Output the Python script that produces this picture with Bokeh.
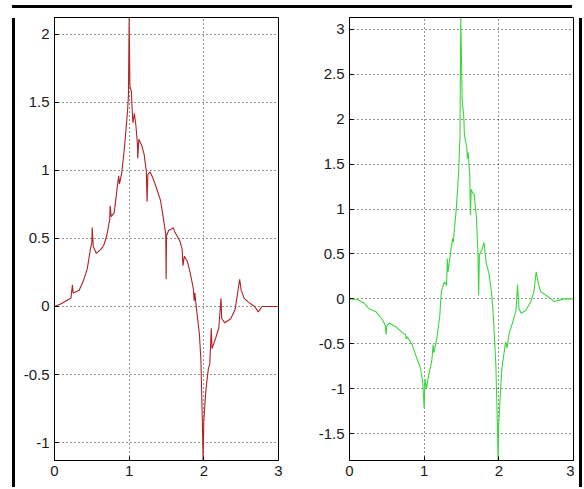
from bokeh.plotting import figure
from bokeh.layouts import row, column
from bokeh.models import Range1d, FixedTicker, Div, Spacer
from bokeh.embed import file_html
from bokeh.resources import INLINE

# ---- data (scaling function, left) ----
phi_x = [0, 0.09, 0.18, 0.22, 0.24, 0.25, 0.33, 0.38, 0.40, 0.44, 0.48, 0.50, 0.505, 0.52,
         0.56, 0.62, 0.66, 0.70, 0.74, 0.745, 0.76, 0.80, 0.85, 0.86, 0.87, 0.90, 0.93, 0.95,
         0.98, 0.99, 1.00, 1.01, 1.03, 1.04, 1.05, 1.07, 1.09, 1.11, 1.115, 1.13, 1.17, 1.20,
         1.23, 1.24, 1.25, 1.28, 1.32, 1.36, 1.42, 1.46, 1.49, 1.495, 1.50, 1.53, 1.57, 1.59,
         1.61, 1.64, 1.68, 1.71, 1.72, 1.74, 1.78, 1.82, 1.86, 1.87, 1.88, 1.90, 1.94, 1.96,
         1.98, 1.99, 2.00, 2.02, 2.03, 2.06, 2.08, 2.10, 2.11, 2.16, 2.20, 2.23, 2.24, 2.28,
         2.36, 2.42, 2.48, 2.50, 2.54, 2.60, 2.68, 2.73, 2.78, 3.00]
phi_y = [0, 0.02, 0.05, 0.06, 0.16, 0.10, 0.12, 0.18, 0.21, 0.28, 0.42, 0.47, 0.58, 0.44,
         0.39, 0.42, 0.45, 0.52, 0.64, 0.74, 0.66, 0.69, 0.92, 0.96, 0.90, 0.98, 1.13, 1.25,
         1.45, 1.55, 2.12, 1.62, 1.58, 1.45, 1.35, 1.42, 1.33, 1.20, 1.09, 1.23, 1.18, 1.12,
         0.99, 0.77, 0.97, 0.99, 0.94, 0.88, 0.78, 0.64, 0.53, 0.20, 0.52, 0.56, 0.57, 0.58,
         0.55, 0.52, 0.48, 0.42, 0.30, 0.37, 0.33, 0.24, 0.13, 0.04, 0.10, -0.01, -0.20, -0.38,
         -0.84, -1.13, -0.84, -0.67, -0.60, -0.46, -0.42, -0.16, -0.31, -0.23, -0.16, 0.06, -0.09, -0.12,
         -0.09, -0.02, 0.20, 0.12, 0.06, 0.03, 0.00, -0.04, 0.00, 0.00]

# ---- data (wavelet, right) ----
psi_x = [0, 0.11, 0.20, 0.26, 0.35, 0.44, 0.48, 0.49, 0.50, 0.53, 0.62, 0.70, 0.75, 0.76,
         0.77, 0.84, 0.90, 0.95, 0.98, 1.00, 1.01, 1.03, 1.06, 1.10, 1.11, 1.12, 1.13, 1.17,
         1.21, 1.23, 1.27, 1.30, 1.31, 1.32, 1.35, 1.38, 1.39, 1.43, 1.46, 1.48, 1.49, 1.51,
         1.53, 1.54, 1.57, 1.58, 1.59, 1.61, 1.62, 1.63, 1.65, 1.67, 1.70, 1.72, 1.73, 1.74,
         1.78, 1.80, 1.83, 1.87, 1.90, 1.92, 1.94, 1.96, 1.98, 1.99, 2.00, 2.02, 2.04, 2.06,
         2.09, 2.11, 2.14, 2.16, 2.20, 2.23, 2.25, 2.27, 2.30, 2.36, 2.43, 2.47, 2.50, 2.53,
         2.56, 2.63, 2.70, 2.74, 2.79, 2.87, 3.00]
psi_y = [0, -0.01, -0.05, -0.11, -0.14, -0.23, -0.30, -0.40, -0.30, -0.27, -0.31, -0.37, -0.40, -0.45,
         -0.42, -0.51, -0.66, -0.77, -0.92, -1.22, -0.89, -1.00, -0.85, -0.70, -0.62, -0.51, -0.60, -0.44,
         -0.18, 0.08, 0.19, 0.15, 0.45, 0.30, 0.49, 0.67, 0.63, 1.00, 1.38, 1.82, 3.13, 2.19,
         2.04, 1.82, 1.69, 1.56, 1.63, 1.38, 0.93, 1.22, 1.18, 1.16, 0.90, 0.52, 0.04, 0.49,
         0.56, 0.63, 0.41, 0.27, 0.08, -0.11, -0.40, -0.73, -1.37, -1.81, -1.37, -1.07, -0.78, -0.66,
         -0.48, -0.55, -0.37, -0.33, -0.22, -0.13, 0.16, -0.11, -0.16, -0.13, -0.03, 0.08, 0.30, 0.17,
         0.08, 0.04, 0.00, -0.03, -0.02, 0.00, 0.00]

x_ticks = [0, 1, 2, 3]
phi_yticks = [-1, -0.5, 0, 0.5, 1, 1.5, 2]
psi_yticks = [-1.5, -1, -0.5, 0, 0.5, 1, 1.5, 2, 2.5, 3]
phi_ylim = (-1.132, 2.124)
psi_ylim = (-1.80, 3.133)

FONT = "Liberation Sans"
FIG_H = 469


def label(v):
    s = ("%g" % v)
    return s


def make_fig(xs, ys, color, yticks, ylim, width, bl, br):
    p = figure(width=width, height=FIG_H, output_backend="svg", toolbar_location=None,
               x_range=Range1d(0, 3), y_range=Range1d(*ylim),
               min_border_left=bl, min_border_right=br, min_border_top=4, min_border_bottom=22)
    p.line(xs, ys, line_color=color, line_width=1.1)
    p.outline_line_color = "black"
    p.outline_line_width = 1
    p.outline_line_alpha = 1
    p.background_fill_color = "white"
    p.border_fill_color = "white"
    p.xaxis.ticker = FixedTicker(ticks=x_ticks)
    p.yaxis.ticker = FixedTicker(ticks=yticks)
    p.xaxis.major_label_overrides = {t: label(t) for t in x_ticks}
    p.yaxis.major_label_overrides = {t: label(t) for t in yticks}
    for ax in (p.xaxis[0], p.yaxis[0]):
        ax.major_tick_in = 4
        ax.major_tick_out = 0
        ax.minor_tick_in = 0
        ax.minor_tick_out = 0
        ax.axis_line_color = "black"
        ax.major_tick_line_color = "black"
        ax.major_label_text_font = FONT
        ax.major_label_text_font_size = "15px"
        ax.major_label_text_color = "#1a1a1a"
    p.xaxis.major_label_standoff = 5
    p.yaxis.major_label_standoff = 5
    p.xgrid.ticker = FixedTicker(ticks=x_ticks)
    p.ygrid.ticker = FixedTicker(ticks=yticks)
    for g in (p.xgrid[0], p.ygrid[0]):
        g.grid_line_color = "black"
        g.grid_line_dash = "1 3"
        g.grid_line_alpha = 0.85
        g.grid_line_width = 1
    return p


p1 = make_fig(phi_x, phi_y, "#b22222", phi_yticks, phi_ylim, width=289, bl=32, br=31)
p2 = make_fig(psi_x, psi_y, "#3dd63d", psi_yticks, psi_ylim, width=265, bl=40, br=1)


def bar(w, h):
    return Div(text="", width=w, height=h, styles={"background-color": "black"})


inner = row(Spacer(width=7, height=FIG_H), bar(3, FIG_H), p1, p2, bar(3, FIG_H))
layout = column(row(Spacer(width=7, height=3), bar(3 + 289 + 265 + 3, 3)), inner)

open("out.html", "w").write(file_html(layout, INLINE))
